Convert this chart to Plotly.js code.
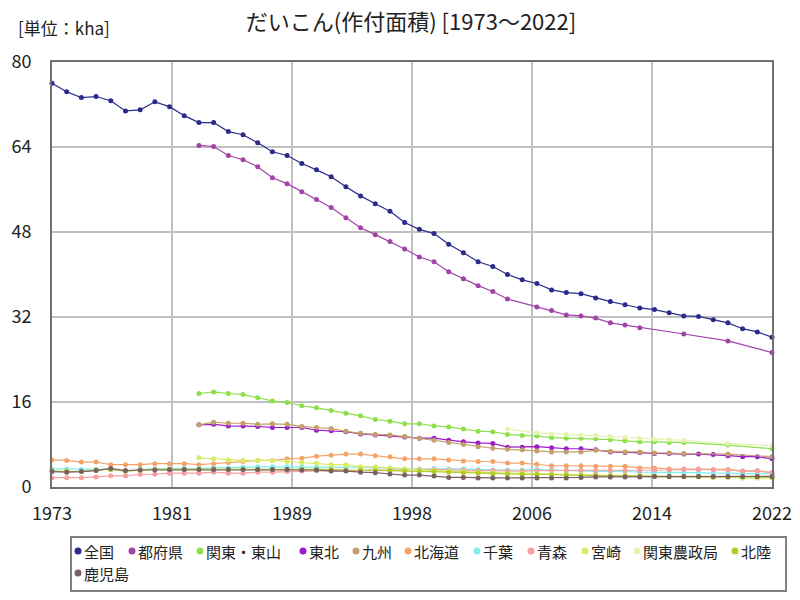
<!DOCTYPE html>
<html>
<head>
<meta charset="utf-8">
<script src="https://cdn.plot.ly/plotly-3.0.1.min.js"></script>
<style>html,body{margin:0;padding:0;background:#fff;}#chart{width:800px;height:600px;}</style>
</head>
<body>
<div id="chart"></div>
<script>
const years = [1973,1974,1975,1976,1977,1978,1979,1980,1981,1982,1983,1984,1985,1986,1987,1988,1989,1990,1991,1992,1993,1994,1995,1996,1997,1998,1999,2000,2001,2002,2003,2004,2005,2006,2007,2008,2009,2010,2011,2012,2013,2014,2015,2016,2017,2018,2019,2020,2021,2022];

const zenkoku = [76.0,74.4,73.3,73.5,72.7,70.8,71.0,72.5,71.6,69.9,68.6,68.6,66.9,66.3,64.8,63.1,62.4,60.9,59.7,58.4,56.5,54.8,53.3,51.9,49.8,48.5,47.7,45.7,44.1,42.4,41.5,40.0,39.0,38.3,37.1,36.6,36.4,35.6,34.9,34.3,33.7,33.4,32.8,32.2,32.1,31.5,30.9,29.8,29.2,28.2];
const tofuken = [null,null,null,null,null,null,null,null,null,null,64.3,64.1,62.4,61.6,60.3,58.2,57.1,55.6,54.1,52.6,50.7,48.8,47.5,46.2,44.8,43.3,42.4,40.5,39.2,37.9,36.8,35.4,null,33.9,33.2,32.4,32.2,31.8,30.9,30.5,30.0,null,null,28.8,null,null,27.5,null,null,25.3];
const kantoTozan = [null,null,null,null,null,null,null,null,null,null,17.6,17.9,17.6,17.4,16.8,16.2,15.9,15.3,14.9,14.4,13.9,13.4,12.7,12.4,11.9,11.9,11.5,11.3,10.9,10.5,10.4,9.9,9.7,9.6,9.3,9.2,9.2,9.1,8.9,8.7,8.5,8.5,8.4,8.4,null,null,7.9,null,null,7.2];
const tohoku = [null,null,null,null,null,null,null,null,null,null,11.7,11.8,11.5,11.5,11.4,11.2,11.2,11.2,10.7,10.6,10.4,10.0,9.8,9.7,9.4,9.2,9.2,8.8,8.5,8.3,8.2,7.5,7.5,7.6,7.4,7.2,7.2,7.0,6.6,6.5,6.5,6.3,6.3,6.2,6.2,6.1,5.9,5.7,5.7,5.3];
const kyushu = [null,null,null,null,null,null,null,null,null,null,11.7,12.2,12.0,12.0,11.8,11.9,11.8,11.4,11.2,11.0,10.5,10.1,9.9,9.8,9.5,9.2,8.8,8.4,8.0,7.6,7.3,7.1,7.0,6.8,6.6,6.6,6.6,6.9,6.7,6.6,6.6,6.4,6.4,6.3,null,null,6.2,null,null,5.7];
const hokkaido = [5.1,5.0,4.7,4.7,4.2,4.2,4.2,4.4,4.4,4.4,4.2,4.4,4.6,4.8,5.0,5.0,5.3,5.4,5.8,6.0,6.2,6.2,5.9,5.7,5.3,5.3,5.3,5.1,4.9,4.8,4.8,4.5,4.5,4.3,4.0,4.0,4.0,3.9,3.9,3.9,3.6,3.6,3.4,3.4,3.4,3.3,3.3,3.0,3.1,2.7];
const chiba = [3.4,3.4,3.3,3.3,3.3,3.0,3.3,3.4,3.4,3.5,3.5,3.6,3.6,3.7,3.8,3.8,3.8,3.8,3.7,3.7,3.7,3.7,3.6,3.6,3.4,3.4,3.5,3.4,3.4,3.3,3.2,3.2,3.2,3.3,3.2,3.1,3.1,2.95,2.95,2.95,2.8,2.8,2.7,2.7,2.7,2.6,2.6,2.5,2.5,2.5];
const aomori = [1.75,1.75,1.75,1.9,2.1,2.1,2.4,2.4,2.6,2.6,2.6,2.8,2.6,2.6,2.8,2.8,2.9,3.0,3.1,3.1,3.1,3.2,3.2,3.2,3.3,3.3,3.3,3.2,3.2,3.1,3.1,3.0,3.0,3.1,3.1,3.1,3.1,3.1,3.1,3.1,3.1,3.2,3.2,3.3,3.3,3.2,3.2,3.0,3.0,2.7];
const miyazaki = [null,null,null,null,null,null,null,null,null,null,5.5,5.3,5.1,5.0,5.0,5.0,4.8,4.6,4.5,4.2,4.2,3.8,3.8,3.6,3.4,3.2,3.1,3.0,2.9,2.7,2.7,2.6,2.6,2.5,2.45,2.4,2.3,2.2,2.1,2.1,2.0,2.0,1.9,1.9,1.9,1.8,1.8,1.65,1.65,1.7];
const kantoNosei = [null,null,null,null,null,null,null,null,null,null,null,null,null,null,null,null,null,null,null,null,null,null,null,null,null,null,null,null,null,null,null,10.9,null,10.2,10.0,9.9,9.8,9.7,9.5,9.4,9.2,9.0,8.9,8.8,null,null,8.2,null,null,7.8];
const hokuriku = [3.0,3.0,2.9,3.2,3.3,3.0,3.2,3.3,3.3,3.3,3.3,3.4,3.3,3.3,3.3,3.3,3.3,3.3,3.3,3.3,3.2,3.2,3.1,3.1,3.0,3.0,2.9,2.8,2.7,2.6,2.5,2.5,2.4,2.4,2.3,2.3,2.2,2.2,2.1,2.1,2.1,2.0,2.0,2.0,2.0,1.9,1.9,1.9,1.9,1.8];
const kagoshima = [2.9,2.8,2.9,3.1,3.5,3.1,3.2,3.2,3.3,3.3,3.3,3.3,3.3,3.3,3.3,3.3,3.3,3.2,3.2,3.0,3.0,2.8,2.7,2.45,2.25,2.25,2.05,1.8,1.8,1.7,1.7,1.7,1.7,1.7,1.7,1.7,1.8,1.9,1.9,1.9,1.9,2.0,2.0,2.0,2.0,2.0,2.0,2.0,2.0,2.0];

const seriesNames = ['全国','都府県','関東・東山','東北','九州','北海道','千葉','青森','宮崎','関東農政局','北陸','鹿児島'];
const seriesValues = [zenkoku,tofuken,kantoTozan,tohoku,kyushu,hokkaido,chiba,aomori,miyazaki,kantoNosei,hokuriku,kagoshima];
const seriesColors = ['#2b2b8c','#a044a8','#8ee04a','#9b1ec8','#c4a06a','#f4a46a','#7ef0f0','#f4a0a0','#d8ec68','#e4f4b0','#b4cc28','#7a6060'];

const xTickText = ['1973','1981','1989','1998','2006','2014','2022'];
const yTicks = [0,16,32,48,64,80];

const FONT = '"Noto Sans CJK JP", "Noto Sans", sans-serif';

const traces = seriesNames.map((n,i)=>({
  type:'scatter', mode:'lines+markers', name:n,
  x: years, y: seriesValues[i], connectgaps:true, cliponaxis:false,
  line:{color:seriesColors[i], width:1.2},
  marker:{color:seriesColors[i], size:5},
  showlegend:false
}));

const x0 = years[0], x1 = years[years.length-1];
const xTickVals = xTickText.map((t,k)=> x0 + k*(x1-x0)/(xTickText.length-1));

const plotL = 52, plotR = 772, plotT = 62, plotB = 487;
const px = v => (v-plotL)/(plotR-plotL);
const py = v => (plotB-v)/(plotB-plotT);
const legendDotX = [78,132,200,303,356,408,477,531,585,637,735,78];
const legendRowY = [551,551,551,551,551,551,551,551,551,551,551,573];

const shapes = [{
  type:'rect', xref:'paper', yref:'paper',
  x0:px(71), x1:px(786), y0:py(591), y1:py(537),
  line:{color:'#808080', width:2}, fillcolor:'rgba(0,0,0,0)'
}];
const annotations = [{
  text:'[単位：kha]', xref:'paper', yref:'paper', x:px(16), y:py(28),
  xanchor:'left', yanchor:'middle', showarrow:false,
  font:{family:FONT, size:17, color:'#222'}
}];
seriesNames.forEach((n,i)=>{
  shapes.push({
    type:'circle', xref:'paper', yref:'paper', xsizemode:'pixel', ysizemode:'pixel',
    xanchor:px(legendDotX[i]), yanchor:py(legendRowY[i]),
    x0:-3.5, x1:3.5, y0:-3.5, y1:3.5,
    fillcolor:seriesColors[i], line:{width:0}
  });
  annotations.push({
    text:n, xref:'paper', yref:'paper', x:px(legendDotX[i]+4), y:py(legendRowY[i]),
    xanchor:'left', yanchor:'middle', showarrow:false,
    font:{family:FONT, size:15, color:'#222'}
  });
});

const layout = {
  width:800, height:600,
  margin:{l:plotL, r:800-plotR, t:plotT, b:600-plotB, pad:0},
  paper_bgcolor:'#fff', plot_bgcolor:'#fff',
  font:{family:FONT, color:'#222'},
  title:{text:'だいこん(作付面積) [1973～2022]', x:411/800, xanchor:'center', xref:'container',
         y:1-22/600, yanchor:'middle', yref:'container', font:{family:FONT, size:22, color:'#222'}},
  xaxis:{range:[x0,x1], tickvals:xTickVals, ticktext:xTickText, showgrid:true,
         gridcolor:'#c0c0c0', gridwidth:2, showline:true, linecolor:'#707070', linewidth:2, mirror:true,
         ticks:'', ticklabelstandoff:9, tickfont:{family:FONT, size:18, color:'#222'}, zeroline:false, fixedrange:true},
  yaxis:{range:[0,80], tickvals:yTicks, showgrid:true,
         gridcolor:'#c0c0c0', gridwidth:2, showline:true, linecolor:'#707070', linewidth:2, mirror:true,
         ticks:'', ticklabelstandoff:15, tickfont:{family:FONT, size:18, color:'#222'}, zeroline:false, fixedrange:true},
  showlegend:false,
  shapes:shapes,
  annotations:annotations
};

Plotly.newPlot('chart', traces, layout, {displayModeBar:false, staticPlot:true});
</script>
</body>
</html>
